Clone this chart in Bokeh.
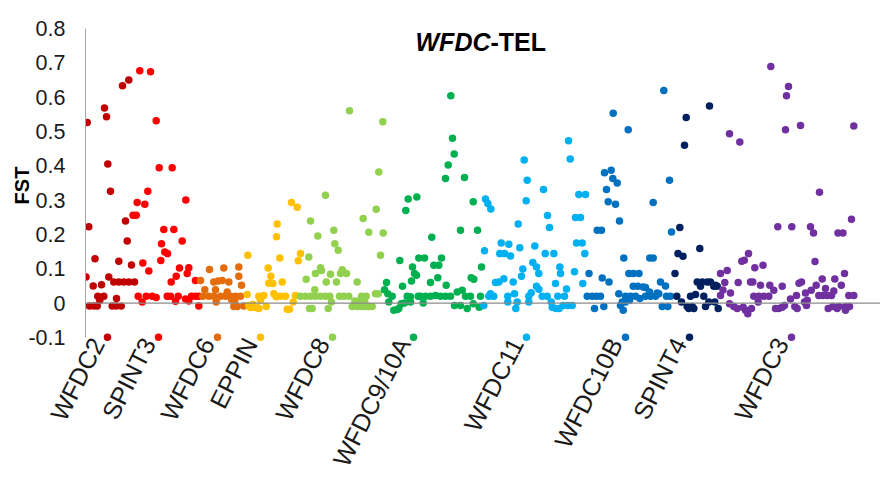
from bokeh.plotting import figure
from bokeh.models import Range1d, Span, Label, LinearAxis, FixedTicker
from bokeh.embed import file_html
from bokeh.resources import INLINE

# ---------------- data ----------------
genes = ["WFDC2", "SPINT3", "WFDC6", "EPPIN", "WFDC8", "WFDC9/10A",
         "WFDC11", "WFDC10B", "SPINT4", "WFDC3"]
gene_colors = ["#C00000", "#FF0000", "#E46C0A", "#FFC000", "#92D050",
               "#00B050", "#00B0F0", "#0070C0", "#002060", "#7030A0"]
gene_pos = [22, 73, 132, 175, 247, 328, 441, 540, 604, 706]
gene_fst = [-0.1] * 10

y_ticks = [-0.1, 0, 0.1, 0.2, 0.3, 0.4, 0.5, 0.6, 0.7, 0.8]
y_tick_labels = ["-0.1", "0", "0.1", "0.2", "0.3", "0.4", "0.5", "0.6", "0.7", "0.8"]

wfdc2_pos = [0.5, 1.7, 3.3, 4, 7.7, 8.3, 9.5, 11.7, 12.3, 14.3, 16, 18.3, 19, 21, 22.3, 23.3,
             25, 26.7, 28.3, 30.7, 31, 33.3, 33.3, 35.7, 37, 38.3, 40, 41.7, 43.3, 43.3, 46, 49]
wfdc2_fst = [0.076, 0.526, 0.222, -0.009, 0.050, -0.009, 0.129, -0.009, 0.020, 0.008, 0.053,
             0.020, 0.568, 0.543, 0.405, 0.076, 0.326, -0.009, 0.061, -0.009, 0.013, 0.061,
             0.122, -0.009, 0.633, 0.061, 0.239, 0.181, 0.061, 0.650, 0.111, 0.061]

spint3_pos = [47.5, 50.7, 51.7, 52.7, 54.3, 56.7, 57.3, 59.3, 60.7, 62.3, 63.3, 65, 66.7, 70.7,
              70.7, 73.7, 75.3, 76, 78.3, 79.3, 81.7, 82, 85, 85.7, 86.7, 88.3, 90, 90.7, 92.7,
              94, 96.7, 100, 100.3, 101.7, 103.3, 103.3, 106, 110, 110, 113.3, 113.3]
spint3_fst = [0.256, 0.256, 0.293, 0.020, 0.677, 0.003, 0.117, 0.288, 0.020, 0.326, 0.093, 0.674,
              0.020, 0.531, 0.016, 0.394, 0.124, 0.173, 0.214, 0.149, 0.020, 0.144, 0.020, 0.061,
              0.394, 0.214, 0.005, 0.078, 0.020, 0.102, 0.181, 0.012, 0.300, 0.086, 0.103, 0.006,
              0.020, 0.066, 0.020, 0.020, -0.009]

wfdc6_pos = [115, 117.3, 119.3, 123.3, 124, 128.3, 128.3, 130, 130.7, 132.7, 135, 136.7, 138.3,
             140, 141.7, 143.3, 145, 146, 148.3, 149.3, 150, 151.7, 153.3, 153.3, 155, 156, 158.3]
wfdc6_fst = [0.066, 0.020, 0.039, 0.020, 0.098, 0.061, 0.020, 0.039, 0.003, 0.064, 0.020, 0.066,
             0.102, 0.020, 0.032, 0.061, 0.020, 0.010, -0.010, 0.008, 0.020, -0.010, 0.105, 0.078,
             0.020, 0.052, -0.009]

eppin_pos = [161.7, 162.3, 163.3, 165, 167.3, 169.3, 171.7, 173.3, 173.3, 175, 178.3, 180.7,
             182.7, 183.3, 185.3, 187.3, 188.3, 190.7, 191, 191.7, 194.3, 195, 196.7, 200, 201.7,
             204, 206, 207.7, 210, 211.7, 212.7, 215]
eppin_fst = [0.025, 0.139, -0.007, -0.013, -0.004, -0.013, -0.013, -0.016, 0.020, 0.008, 0.022,
             -0.010, 0.102, 0.058, 0.078, 0.057, 0.027, 0.018, 0.193, 0.230, 0.131, 0.020, 0.061,
             0.020, -0.018, -0.018, 0.293, 0.003, 0.022, 0.279, 0.123, 0.144]

wfdc8_pos = [215, 220, 220.7, 223.3, 224, 225, 225, 226.7, 229.3, 230, 230, 232.3, 235, 235, 236,
             240, 240, 240.7, 242.7, 244.3, 245, 246, 248.3, 249.3, 251, 252.7, 254, 255, 256.7,
             258.3, 261, 263.3, 264, 266.7, 269.3, 271.7, 271.7, 273.3, 275, 276, 277.7, 278.3,
             279.3, 280.7, 282.7, 283.3, 286.7, 290, 290.7, 292.7, 293.3, 295, 297.3, 297.7]
wfdc8_fst = [0.020, 0.020, 0.069, 0.134, -0.016, 0.239, 0.020, -0.016, 0.039, 0.086, 0.020, 0.195,
             0.103, 0.020, 0.095, 0.314, 0.020, 0.061, -0.016, 0.020, 0.084, 0.003, 0.212, 0.173,
             0.061, 0.154, 0.020, 0.086, 0.097, 0.020, 0.086, 0.020, 0.560, -0.010, 0.006, 0.061,
             -0.010, 0.006, -0.010, 0.020, 0.246, -0.010, 0.003, 0.020, -0.010, 0.206, -0.010,
             0.027, 0.273, 0.027, 0.382, 0.139, 0.528, 0.204]

wfdc9_pos = [299, 301, 302.3, 303.3, 306.7, 308.3, 311.7, 313.3, 314.3, 315.7, 317, 319, 320.3,
             321.7, 322.7, 325, 325, 326, 327, 329, 331, 331.3, 332.7, 333.3, 335, 337.7, 339, 340,
             345, 345, 346.3, 348.3, 350, 352.3, 353.3, 355, 356, 360, 360, 360.7, 362.7, 365,
             365.3, 367, 368.7, 369, 371.7, 375, 375, 376.7, 379, 380, 381.7, 385, 385.7, 387.7,
             387.7, 388.3, 392, 393.7, 395, 396]
wfdc9_fst = [0.039, 0.060, 0.027, 0.003, 0.020, -0.021, -0.019, -0.016, 0.124, -0.002, 0.049,
             0.000, 0.270, 0.020, 0.303, 0.018, 0.003, 0.064, 0.105, 0.086, 0.081, 0.309, 0.020,
             0.131, 0.020, 0.000, 0.131, 0.020, 0.060, 0.020, 0.192, 0.110, 0.022, 0.074, 0.110,
             0.020, 0.131, 0.363, 0.020, 0.052, 0.402, 0.020, 0.604, 0.480, 0.434, -0.007, 0.032,
             0.212, -0.007, 0.037, 0.366, 0.020, -0.016, 0.020, 0.074, 0.295, -0.002, 0.069,
             0.212, -0.012, 0.020, 0.105]

wfdc11_pos = [398.3, 399, 400, 402.3, 403.3, 405, 405.3, 408.3, 410, 413.3, 414.3, 415.7, 418.3,
              419, 422.3, 422.3, 423.3, 425, 427.7, 429, 430.3, 431.7, 432.7, 434.3, 436, 437.3,
              438.7, 440.7, 441.7, 443.3, 443.3, 445.7, 447.3, 449.3, 451, 451, 453.3, 453.3,
              456.7, 458, 459.7, 461.7, 462, 464, 465.7, 466.7, 468.3, 470, 470.3, 472.3, 473.7,
              474.3, 475, 477.7, 479, 481, 482.3, 483, 484.7, 486.7, 489, 490, 491, 493.3, 495,
              496.7, 497.3, 499.3, 500]
wfdc11_fst = [-0.007, 0.152, 0.303, 0.290, 0.020, 0.027, 0.274, 0.020, 0.060, 0.061, 0.144, 0.175,
              0.071, 0.144, 0.020, 0.003, 0.171, 0.137, 0.061, 0.027, -0.016, 0.003, 0.230, 0.161,
              0.078, 0.099, 0.417, 0.298, 0.358, 0.020, 0.003, 0.030, 0.118, 0.166, 0.105, 0.049,
              0.086, 0.040, 0.020, 0.331, 0.144, 0.020, 0.255, 0.220, 0.003, -0.012, 0.144, 0.057,
              -0.016, 0.020, -0.016, 0.105, 0.086, -0.007, 0.020, 0.041, -0.007, 0.473, 0.420,
              -0.007, 0.091, 0.249, 0.175, 0.316, 0.249, 0.175, 0.057, 0.144, 0.316]

wfdc10b_pos = [501.7, 503.5, 506.7, 509, 511, 511.7, 515, 516, 516.7, 518.3, 519, 521, 522.7,
               523.5, 525.7, 527.3, 527.7, 530, 531.7, 533.3, 534, 535, 536.7, 537.7, 538.3, 540,
               540, 542.7, 543.3, 544, 545, 547.7, 548, 550, 552.3, 553.5, 554.3, 557.7, 560, 560,
               564, 564.3, 565, 567.7, 567.7, 570, 571.7, 573.3, 575, 576.7, 578.3, 580, 581,
               582.3, 584, 585, 586]
wfdc10b_fst = [0.020, 0.086, 0.020, -0.016, 0.020, 0.212, 0.020, 0.212, 0.073, -0.010, 0.380,
               0.331, 0.295, 0.061, 0.387, 0.363, 0.553, 0.288, 0.350, 0.027, 0.239, -0.007, 0.003,
               -0.021, 0.131, 0.020, 0.003, 0.505, 0.086, 0.008, 0.020, 0.049, 0.086, 0.020, 0.049,
               0.086, 0.013, 0.047, 0.045, 0.020, 0.032, 0.131, 0.020, 0.131, 0.293, 0.020, 0.029,
               0.027, 0.061, -0.010, 0.619, 0.050, 0.020, -0.010, 0.358, 0.020, 0.207]

spint4_pos = [589.5, 591.3, 592.5, 594.3, 596, 597.5, 599, 600.7, 601.7, 603.3, 605, 606.7, 608.3,
              610, 611.7, 614.3, 615, 616.7, 618.3, 620, 621.7, 623.3, 624, 625, 628.3, 629.3,
              630, 631.7, 632.7]
spint4_fst = [0.086, 0.020, 0.144, 0.220, 0.003, 0.136, 0.460, 0.541, -0.010, -0.016, 0.020,
              -0.010, -0.016, 0.025, 0.061, 0.159, 0.049, 0.061, 0.020, -0.010, 0.061, 0.003,
              0.574, 0.061, 0.049, 0.003, 0.052, 0.049, -0.016]

wfdc3_pos = [635, 635, 637.5, 639.3, 641.7, 644, 644, 645, 648.3, 651.7, 652.7, 654.3, 656.3,
             657.7, 658.8, 660, 662.3, 663, 665, 666, 667.3, 668.3, 669.3, 672.7, 673.3, 675,
             677.5, 678.3, 683.3, 684.3, 685.3, 688.3, 690, 692.3, 693.3, 696.7, 696.7, 699, 700,
             701, 703, 705, 706.3, 709.3, 711, 711.7, 713.5, 715, 716, 719, 720, 721, 721.7, 725,
             725.7, 728, 729.5, 730.7, 733.3, 734, 736.7, 737.3, 740, 741.7, 742.7, 746, 747.3,
             748.3, 749.3, 751.7, 752.5, 753.3, 755.8, 757.5, 759, 760, 760, 763.3, 764, 766,
             768.3, 768.3]
wfdc3_fst = [0.086, 0.022, 0.038, 0.060, 0.095, 0.493, -0.002, 0.029, -0.010, -0.016, 0.060,
             0.469, 0.122, -0.012, 0.125, -0.021, -0.031, 0.144, 0.061, -0.016, 0.061, 0.020,
             0.103, 0.003, 0.020, 0.052, 0.110, 0.020, 0.020, 0.052, 0.689, 0.037, -0.016, 0.222,
             -0.016, 0.049, -0.012, -0.007, 0.505, 0.604, 0.631, 0.012, 0.222, -0.010, 0.022,
             -0.016, 0.058, 0.517, 0.061, 0.003, 0.029, -0.007, 0.008, 0.222, 0.037, 0.204, 0.121,
             0.052, 0.022, 0.323, 0.070, 0.022, 0.042, 0.022, -0.016, 0.022, -0.010, 0.035, 0.070,
             -0.016, 0.204, -0.010, 0.052, 0.204, 0.086, -0.010, -0.021, 0.022, -0.010, 0.244,
             0.516, 0.022]

series_pos = [wfdc2_pos, spint3_pos, wfdc6_pos, eppin_pos, wfdc8_pos, wfdc9_pos,
              wfdc11_pos, wfdc10b_pos, spint4_pos, wfdc3_pos]
series_fst = [wfdc2_fst, spint3_fst, wfdc6_fst, eppin_fst, wfdc8_fst, wfdc9_fst,
              wfdc11_fst, wfdc10b_fst, spint4_fst, wfdc3_fst]

# ---------------- figure ----------------
FONT = "Liberation Sans"
p = figure(width=880, height=482, x_range=Range1d(0, 795), y_range=Range1d(-0.115, 0.8),
           output_backend="svg", toolbar_location=None,
           min_border_left=85, min_border_right=0, min_border_top=28, min_border_bottom=140)
p.xaxis.visible = False
p.grid.visible = False
p.outline_line_color = None
p.background_fill_color = "white"
p.border_fill_color = "white"

ya = p.yaxis[0]
ya.ticker = FixedTicker(ticks=y_ticks)
ya.major_label_overrides = {t: s for t, s in zip(y_ticks, y_tick_labels)}
ya.bounds = (-0.1, 0.8)
ya.axis_line_color = "#a6a6a6"
ya.major_tick_line_color = None
ya.minor_tick_line_color = None
ya.major_tick_out = 0
ya.major_label_standoff = 20
ya.major_label_text_font = FONT
ya.major_label_text_font_size = "21.5px"
ya.major_label_text_color = "#1a1a1a"
ya.axis_label = "FST"
ya.axis_label_text_font = FONT
ya.axis_label_text_font_style = "bold"
ya.axis_label_text_font_size = "20px"
ya.axis_label_text_color = "#000000"
ya.axis_label_standoff = -8

# gene-name axis (range shifted so the rotated names end just left of their dots)
p.extra_x_ranges = {"genes": Range1d(10, 805)}
gx = LinearAxis(x_range_name="genes", ticker=FixedTicker(ticks=gene_pos))
gx.major_label_overrides = {g: n for g, n in zip(gene_pos, genes)}
gx.major_label_orientation = 1.1
gx.axis_line_color = None
gx.major_tick_line_color = None
gx.minor_tick_line_color = None
gx.major_tick_out = 0
gx.major_label_standoff = -3
gx.major_label_text_font = FONT
gx.major_label_text_font_size = "25px"
gx.major_label_text_color = "#1a1a1a"
p.add_layout(gx, "below")

p.add_layout(Span(location=0, dimension="width", line_color="#8c8c8c", line_width=1.2))

for xs, ys, c in zip(series_pos, series_fst, gene_colors):
    p.scatter(xs, ys, size=7.5, color=c, line_width=0)

p.scatter(gene_pos, gene_fst, size=7.5, color=gene_colors, line_width=0)

p.add_layout(Label(x=405, y=0.762, text="WFDC", text_align="right", text_baseline="alphabetic",
                   text_font=FONT, text_font_size="25px", text_font_style="bold italic",
                   text_color="#000000"))
p.add_layout(Label(x=405, y=0.762, text="-TEL", text_align="left", text_baseline="alphabetic",
                   text_font=FONT, text_font_size="25px", text_font_style="bold",
                   text_color="#000000"))

open("out.html", "w").write(file_html(p, INLINE))
